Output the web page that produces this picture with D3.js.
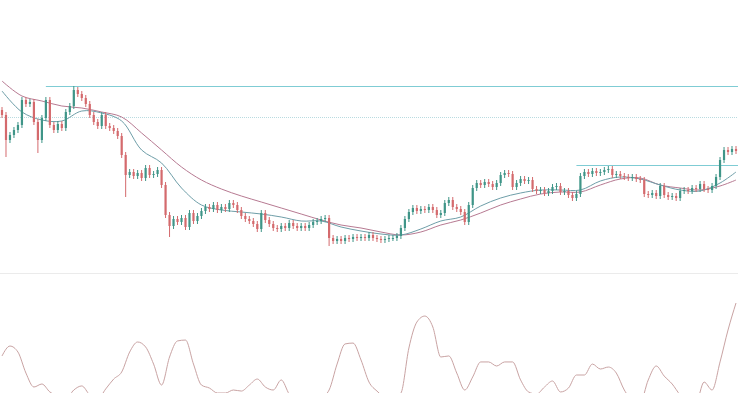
<!DOCTYPE html>
<html><head><meta charset="utf-8">
<script src="https://cdn.jsdelivr.net/npm/d3@7/dist/d3.min.js"></script>
<style>html,body{margin:0;padding:0;background:#fff;overflow:hidden}svg{display:block}</style>
</head><body><svg id="c" width="738" height="393"></svg>
<script>
// ---- data ----
const firstOpen = 19.0;
const closes = [18.5,16.0,16.5,17.0,17.5,20.0,19.6,19.8,17.8,16.0,18.2,20.0,17.5,17.0,17.6,17.2,18.8,19.4,21.0,20.6,
20.2,19.6,18.5,17.8,17.4,18.5,17.4,17.2,16.9,16.4,14.5,12.5,12.8,12.4,12.7,12.2,13.2,12.5,12.6,13.0,
11.5,8.5,7.4,8.1,7.8,8.2,7.3,8.7,7.9,8.4,8.9,9.3,9.1,9.5,9.0,9.3,9.1,9.7,9.5,9.0,
8.4,8.1,7.9,7.6,7.1,8.7,8.0,7.6,7.2,7.1,7.4,7.2,7.7,7.4,7.2,7.4,7.2,7.5,7.8,7.9,
8.1,8.2,6.2,5.9,6.1,5.9,6.2,6.1,6.3,6.2,6.3,6.2,6.5,6.2,6.1,6.0,6.1,6.2,6.2,6.4,
7.2,8.1,8.8,9.2,8.9,9.1,9.0,9.3,9.0,8.5,8.7,9.7,10.0,9.3,9.1,8.8,7.8,9.5,11.2,11.7,
11.5,11.8,11.6,11.3,11.7,12.5,12.7,12.6,11.3,11.7,12.1,11.9,12.0,11.1,10.9,11.0,10.7,10.9,11.3,11.4,
10.8,10.9,10.5,10.2,10.6,12.4,12.8,12.6,12.9,12.7,12.8,13.0,13.1,12.5,12.6,12.4,12.3,12.2,12.3,12.1,
12.0,10.6,10.5,10.7,10.4,11.4,10.5,10.3,10.4,10.2,10.9,11.0,10.9,11.2,11.1,11.6,11.1,11.0,11.4,12.3,
14.0,15.0,14.8,15.1,14.9];
// notable long wicks: [candle index, extreme price]
const longWicks = [[1,14.3],[9,14.7],[18,21.4],[31,10.3],[42,6.3],[65,9.0],[82,5.4]];
const wickSize = 0.3;

// moving averages sampled every 5 candles (+ last candle)
const maIndex = [0,5,10,15,20,25,30,35,40,45,50,55,60,65,70,75,80,85,90,95,100,105,110,115,120,125,130,135,140,145,150,155,160,165,170,175,180,184];
const maFast = [20.9,18.8,18.0,17.9,18.9,18.7,17.9,15.0,13.7,11.2,9.5,9.0,8.8,8.6,8.3,7.9,7.9,7.3,6.9,6.6,6.5,7.1,7.9,8.3,9.4,10.2,10.7,11.0,11.0,11.0,11.9,12.3,12.1,11.5,11.0,10.9,11.7,12.8];
const maSlow = [21.9,20.4,19.9,19.4,19.2,18.8,18.3,16.7,15.0,13.3,12.0,11.1,10.4,9.8,9.2,8.6,8.0,7.5,7.2,6.8,6.5,6.8,7.5,8.0,8.7,9.5,10.1,10.6,10.8,10.8,11.5,12.1,12.2,11.5,11.2,11.0,11.4,12.0];

// horizontal levels: [price, start candle index, style]
const levels = [[21.4,11,"solid"],[18.3,0,"dotted"],[13.5,144,"solid"]];

// oscillator sampled every 2 candles
const osc = [42.7,49.3,45.3,31.3,22.0,24.0,18.7,16.0,14.0,20.0,22.7,16.7,14.0,20.7,27.3,32.0,45.3,52.0,48.7,37.3,
23.3,42.0,52.7,53.3,37.3,23.3,21.3,18.0,18.0,20.0,19.3,23.3,27.3,22.0,20.0,26.7,17.3,12.7,10.7,11.3,
14.7,20.0,37.3,50.7,51.3,40.0,25.3,19.3,15.3,14.7,18.0,48.0,65.3,69.3,62.0,42.0,42.7,31.3,20.0,28.7,
38.7,38.7,36.0,38.7,38.7,26.7,18.7,17.3,22.0,26.0,18.7,21.3,30.0,30.0,37.3,34.0,35.3,31.3,20.0,13.3,
12.0,26.7,36.0,29.3,24.0,16.7,12.0,12.0,25.3,20.0,38.7,60.0,78.0];

// ---- build ----
const W = 738, H = 393, sepY = 273;
const svg = d3.select("#c");
const n = closes.length;
const x = d3.scaleLinear().domain([0, n - 1]).range([2, 736]);
const y = d3.scaleLinear().domain([2.7, 30]).range([sepY, 0]);
const yo = d3.scaleLinear().domain([0, 100]).range([420, 270]);

const candles = closes.map((c, i) => {
  const o = i === 0 ? firstOpen : closes[i - 1];
  let h = Math.max(o, c) + wickSize, l = Math.min(o, c) - wickSize;
  longWicks.forEach(([k, v]) => { if (k === i) { if (v > h) h = v; if (v < l) l = v; } });
  return {i, o, h, l, c};
});

const upCol = "#3f9588", dnCol = "#d46a6d";

// separator
svg.append("line").attr("x1", 0).attr("x2", W).attr("y1", sepY + 0.5).attr("y2", sepY + 0.5)
  .attr("stroke", "#ebebeb").attr("stroke-width", 1);

// levels
levels.forEach(([p, s, st]) => {
  svg.append("line").attr("x1", st === "dotted" ? 0 : x(s)).attr("x2", W)
    .attr("y1", Math.round(y(p)) + 0.5).attr("y2", Math.round(y(p)) + 0.5)
    .attr("stroke", st === "dotted" ? "#b9dbe0" : "#7fccd4")
    .attr("stroke-width", 1)
    .attr("stroke-dasharray", st === "dotted" ? "1,1" : null);
});

// moving averages
const maLine = arr => d3.line().x((d, k) => x(maIndex[k])).y(d => y(d)).curve(d3.curveCatmullRom)(arr);
svg.append("path").attr("d", maLine(maSlow)).attr("fill", "none").attr("stroke", "#b77a92").attr("stroke-width", 1);
svg.append("path").attr("d", maLine(maFast)).attr("fill", "none").attr("stroke", "#6e9ea8").attr("stroke-width", 1);

// candles
const g = svg.append("g");
g.selectAll("line.w").data(candles).join("line").attr("class", "w")
  .attr("x1", d => x(d.i)).attr("x2", d => x(d.i))
  .attr("y1", d => y(d.h)).attr("y2", d => y(d.l))
  .attr("stroke", d => d.c >= d.o ? upCol : dnCol).attr("stroke-width", 1);
g.selectAll("rect").data(candles).join("rect")
  .attr("x", d => x(d.i) - 1.1).attr("width", 2.2)
  .attr("y", d => y(Math.max(d.o, d.c)))
  .attr("height", d => Math.max(1, Math.abs(y(d.o) - y(d.c))))
  .attr("fill", d => d.c >= d.o ? upCol : dnCol);

// oscillator
svg.append("defs").append("clipPath").attr("id", "oc").append("rect")
  .attr("x", 0).attr("y", sepY + 1).attr("width", W).attr("height", H - sepY);
svg.append("path").attr("clip-path", "url(#oc)")
  .attr("d", d3.line().x((d, k) => x(k * 2)).y(d => yo(d)).curve(d3.curveMonotoneX)(osc))
  .attr("fill", "none").attr("stroke", "#c9a3a3").attr("stroke-width", 1);
</script></body></html>
